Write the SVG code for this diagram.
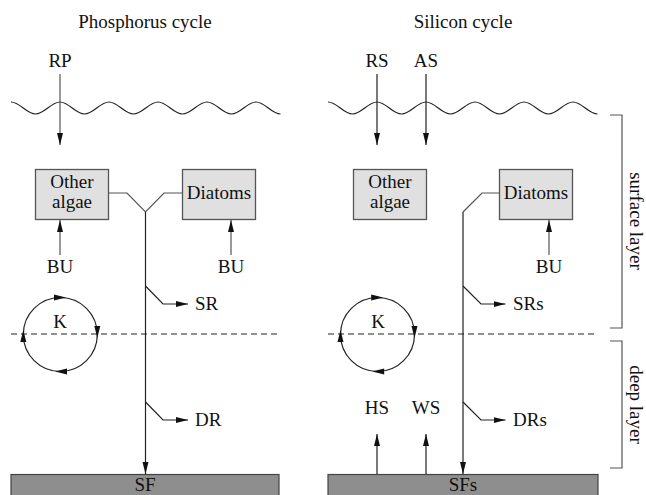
<svg xmlns="http://www.w3.org/2000/svg" width="646" height="495" viewBox="0 0 646 495">
<style>
text{font-family:"Liberation Serif","Times New Roman",serif;font-size:19px;fill:#111}
.m{text-anchor:middle}
.ln{fill:none;stroke:#222;stroke-width:1.2}
.gl{fill:none;stroke:#555;stroke-width:1.2}
.box{fill:#e0e0e0;stroke:#555;stroke-width:1.3}
.sed{fill:#8e8e8e;stroke:#444;stroke-width:1.2}
.ah{fill:#111}
.dash{fill:none;stroke:#222;stroke-width:1.1;stroke-dasharray:6 4}
</style>
<defs>
<marker id="arr" markerUnits="userSpaceOnUse" markerWidth="13" markerHeight="7" refX="12" refY="3" orient="auto">
<path d="M0,0 L12,3 L0,6 z" fill="#111"/>
</marker>
</defs>

<text class="m" x="145" y="28">Phosphorus cycle</text>
<text class="m" x="463" y="28">Silicon cycle</text>

<g id="waves">
<path class="ln" d="M11,102 c8.9,0 15.6,12 24.5,12 c8.9,0 15.6,-12 24.5,-12 c8.9,0 15.6,12 24.5,12 c8.9,0 15.6,-12 24.5,-12 c8.9,0 15.6,12 24.5,12 c8.9,0 15.6,-12 24.5,-12 c8.9,0 15.6,12 24.5,12 c8.9,0 15.6,-12 24.5,-12 c8.9,0 15.6,12 24.5,12 c8.9,0 15.6,-12 24.5,-12 c8.9,0 15.6,12 24.5,12"/>
<path class="ln" d="M328,102 c8.9,0 15.6,12 24.5,12 c8.9,0 15.6,-12 24.5,-12 c8.9,0 15.6,12 24.5,12 c8.9,0 15.6,-12 24.5,-12 c8.9,0 15.6,12 24.5,12 c8.9,0 15.6,-12 24.5,-12 c8.9,0 15.6,12 24.5,12 c8.9,0 15.6,-12 24.5,-12 c8.9,0 15.6,12 24.5,12 c8.9,0 15.6,-12 24.5,-12 c8.9,0 15.6,12 24.5,12"/>
</g>

<g id="layers">
<path class="dash" d="M11,334 H279"/>
<path class="dash" d="M328,334 H598"/>
<path class="gl" d="M610,115 H622 V328 H610"/>
<path class="gl" d="M610,341 H622 V468 H610"/>
<text class="m" transform="translate(630,221) rotate(90)">surface layer</text>
<text class="m" transform="translate(630,404.5) rotate(90)">deep layer</text>
</g>

<g id="p-other-algae">
<rect class="box" x="35.5" y="169.5" width="73" height="50"/>
<text class="m" x="72" y="188">Other</text>
<text class="m" x="72" y="208">algae</text>
</g>
<g id="p-diatoms">
<rect class="box" x="182.5" y="169.5" width="73" height="50"/>
<text class="m" x="219" y="199">Diatoms</text>
</g>
<g id="s-other-algae">
<rect class="box" x="353.5" y="169.5" width="73" height="50"/>
<text class="m" x="390" y="188">Other</text>
<text class="m" x="390" y="208">algae</text>
</g>
<g id="s-diatoms">
<rect class="box" x="499.5" y="169.5" width="73" height="50"/>
<text class="m" x="536" y="199">Diatoms</text>
</g>

<g id="p-sediment">
<rect class="sed" x="11" y="474.5" width="268" height="25"/>
<text class="m" x="145" y="491">SF</text>
</g>
<g id="s-sediment">
<rect class="sed" x="328" y="474.5" width="270" height="25"/>
<text class="m" x="463" y="491">SFs</text>
</g>

<g id="p-k">
<circle class="ln" cx="60.3" cy="334.5" r="37"/>
<text class="m" x="60" y="328">K</text>
<path class="ah" d="M66,297.5 L54,294.5 L54,300.5 z"/>
<path class="ah" d="M97.3,338 L94.3,326 L100.3,326 z"/>
<path class="ah" d="M55,371.5 L67,368.5 L67,374.5 z"/>
<path class="ah" d="M23.3,330 L20.3,342 L26.3,342 z"/>
</g>
<g id="s-k">
<circle class="ln" cx="377.5" cy="334.5" r="37"/>
<text class="m" x="378" y="328">K</text>
<path class="ah" d="M383.2,297.5 L371.2,294.5 L371.2,300.5 z"/>
<path class="ah" d="M414.5,338 L411.5,326 L417.5,326 z"/>
<path class="ah" d="M372.2,371.5 L384.2,368.5 L384.2,374.5 z"/>
<path class="ah" d="M340.5,330 L337.5,342 L343.5,342 z"/>
</g>

<g id="connectors">
<path class="gl" d="M60,74 V145" marker-end="url(#arr)"/>
<path class="gl" d="M60,255 V220" marker-end="url(#arr)"/>
<path class="gl" d="M231,255 V220" marker-end="url(#arr)"/>
<path class="gl" d="M108.5,193 H127 L145.5,212 L164,193 H182.5"/>
<path class="ln" d="M145.5,212 V474" marker-end="url(#arr)"/>
<path class="ln" d="M145.5,286 L163,304 H188" marker-end="url(#arr)"/>
<path class="ln" d="M145.5,402 L163,420 H188" marker-end="url(#arr)"/>
<path class="ln" d="M377,74 V145" marker-end="url(#arr)"/>
<path class="ln" d="M426,74 V145" marker-end="url(#arr)"/>
<path class="gl" d="M549,255 V220" marker-end="url(#arr)"/>
<path class="gl" d="M499.5,193 H482 L463,212"/>
<path class="ln" d="M463,212 V474" marker-end="url(#arr)"/>
<path class="ln" d="M463,286 L481,304 H505.5" marker-end="url(#arr)"/>
<path class="ln" d="M463,402 L481,420 H505.5" marker-end="url(#arr)"/>
<path class="ln" d="M377,474 V434" marker-end="url(#arr)"/>
<path class="ln" d="M426,474 V434" marker-end="url(#arr)"/>
</g>

<g id="labels">
<text class="m" x="60" y="67">RP</text>
<text class="m" x="377" y="67">RS</text>
<text class="m" x="426" y="67">AS</text>
<text class="m" x="60" y="273">BU</text>
<text class="m" x="231" y="273">BU</text>
<text class="m" x="549" y="273">BU</text>
<text x="195" y="310">SR</text>
<text x="513" y="310">SRs</text>
<text x="195" y="426">DR</text>
<text x="513" y="426">DRs</text>
<text class="m" x="377" y="414">HS</text>
<text class="m" x="426" y="414">WS</text>
</g>
</svg>
